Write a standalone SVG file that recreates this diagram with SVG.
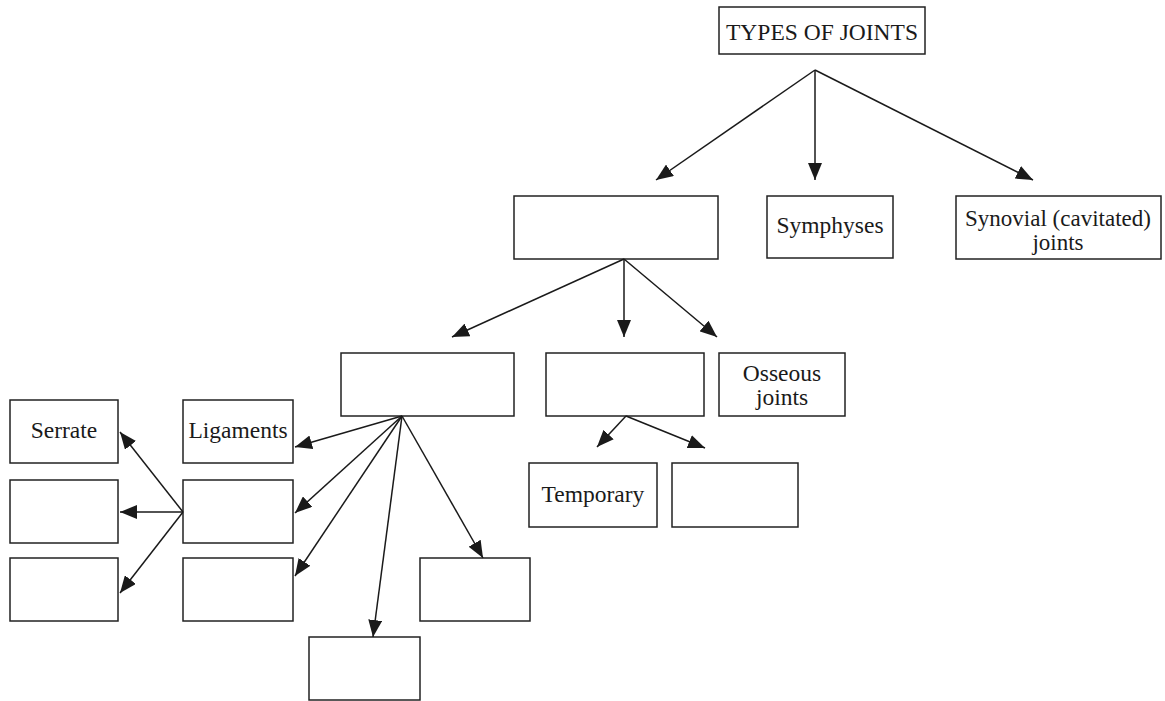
<svg xmlns="http://www.w3.org/2000/svg" width="1165" height="701" viewBox="0 0 1165 701">
<style>
rect{fill:#fff;stroke:#222;stroke-width:1.5}
text{font-family:"Liberation Serif",serif;font-size:23.5px;fill:#1a1a1a;text-anchor:middle}
.c line{stroke:#1a1a1a;stroke-width:1.5;marker-end:url(#ah)}
</style>
<defs>
<marker id="ah" viewBox="0 0 17 14" refX="17" refY="7" markerWidth="17" markerHeight="14" markerUnits="userSpaceOnUse" orient="auto">
<path d="M0,0 L17,7 L0,14 z" fill="#1a1a1a"/>
</marker>
</defs>
<rect x="0" y="0" width="1165" height="701" style="stroke:none"/>
<g id="types"><rect x="719" y="7" width="206" height="47"/><text x="822" y="40">TYPES OF JOINTS</text></g>
<g id="fibrous"><rect x="514" y="196" width="204" height="63"/></g>
<g id="symphyses"><rect x="767" y="196" width="126" height="62"/><text x="830" y="233">Symphyses</text></g>
<g id="synovial"><rect x="956" y="196" width="205" height="63"/><text x="1058" y="226" style="font-size:23px">Synovial (cavitated)</text><text x="1058" y="250" style="font-size:23px">joints</text></g>
<g id="b"><rect x="341" y="353" width="173" height="63"/></g>
<g id="c"><rect x="546" y="353" width="158" height="63"/></g>
<g id="osseous"><rect x="719" y="353" width="126" height="63"/><text x="782" y="381">Osseous</text><text x="782" y="405">joints</text></g>
<g id="serrate"><rect x="10" y="400" width="108" height="63"/><text x="64" y="438">Serrate</text></g>
<g id="l2"><rect x="10" y="480" width="108" height="63"/></g>
<g id="l3"><rect x="10" y="558" width="108" height="63"/></g>
<g id="ligaments"><rect x="183" y="400" width="110" height="63"/><text x="238" y="438">Ligaments</text></g>
<g id="m2"><rect x="183" y="480" width="110" height="63"/></g>
<g id="m3"><rect x="183" y="558" width="110" height="63"/></g>
<g id="r3"><rect x="420" y="558" width="110" height="63"/></g>
<g id="bottom"><rect x="309" y="637" width="111" height="63"/></g>
<g id="temporary"><rect x="529" y="463" width="128" height="64"/><text x="593" y="502">Temporary</text></g>
<g id="t2"><rect x="672" y="463" width="126" height="64"/></g>
<g class="c" id="connectors">
<line x1="815" y1="70" x2="656" y2="180"/>
<line x1="815" y1="70" x2="815" y2="180"/>
<line x1="815" y1="70" x2="1033" y2="180"/>
<line x1="624" y1="259" x2="452" y2="337"/>
<line x1="624" y1="259" x2="624" y2="337"/>
<line x1="624" y1="259" x2="717" y2="337"/>
<line x1="402" y1="416" x2="295" y2="447"/>
<line x1="402" y1="416" x2="295" y2="513"/>
<line x1="402" y1="416" x2="295" y2="576"/>
<line x1="402" y1="416" x2="373" y2="637"/>
<line x1="402" y1="416" x2="483" y2="558"/>
<line x1="183" y1="512" x2="120" y2="432"/>
<line x1="183" y1="512" x2="120" y2="512"/>
<line x1="183" y1="512" x2="120" y2="593"/>
<line x1="626" y1="416" x2="597" y2="447"/>
<line x1="626" y1="416" x2="705" y2="448"/>
</g>
</svg>
